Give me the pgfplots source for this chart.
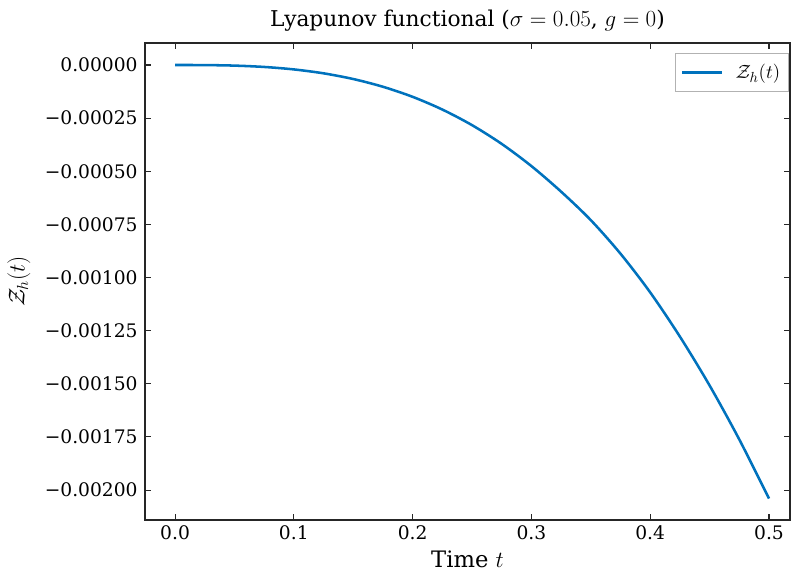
\documentclass[border=0pt]{standalone}
\usepackage{pgfplots}
\pgfplotsset{compat=1.18}
\usepackage{fontspec}
\setmainfont{DejaVu Serif}
\definecolor{lineblue}{RGB}{0,114,189}
\begin{document}
\begin{tikzpicture}
\useasboundingbox (-108.75pt,-43.5pt) rectangle (484.5pt,390pt);
\begin{axis}[
  at={(0,0)}, anchor=south west,
  scale only axis,
  width=483.75pt, height=357.75pt,
  xmin=-0.0253, xmax=0.5177,
  ymin=-0.002141, ymax=0.0001035,
  axis line style={black!85, line width=0.9pt},
  tick style={black!85, line width=0.8pt},
  tick align=inside,
  major tick length=4.5pt,
  tick pos=both,
  xtick={0,0.1,0.2,0.3,0.4,0.5},
  xticklabels={0.0,0.1,0.2,0.3,0.4,0.5},
  ytick={-0.002,-0.00175,-0.0015,-0.00125,-0.001,-0.00075,-0.0005,-0.00025,0},
  yticklabels={−0.00200,−0.00175,−0.00150,−0.00125,−0.00100,−0.00075,−0.00050,−0.00025,0.00000},
  scaled ticks=false,
  ticklabel style={font=\fontsize{14}{16}\selectfont},
  xticklabel style={yshift=-1pt},
  yticklabel style={xshift=-2pt},
  xlabel={Time $t$},
  ylabel={$\mathcal{Z}_h(t)$},
  xlabel style={yshift=-1pt},
  ylabel style={yshift=4pt},
  label style={font=\fontsize{17}{20}\selectfont},
  title={Lyapunov functional ($\sigma = 0.05$, $g = 0$)},
  title style={font=\fontsize{16.3}{19}\selectfont, yshift=-1pt},
  legend style={at={(0.998,0.979)}, anchor=north east, draw=black!30, line width=0.9pt,
    font=\fontsize{15.5}{18}\selectfont, inner xsep=4pt, inner ysep=6pt},
  legend cell align=left,
  legend image code/.code={\draw[#1, line width=1.9pt] (0pt,0pt) -- (30pt,0pt); \path (37pt,0pt);},
]
\addplot[lineblue, line width=1.9pt, smooth] table {
t y
0.000 0.0000000
0.025 -0.0000004
0.050 -0.0000029
0.075 -0.0000092
0.100 -0.0000208
0.125 -0.0000392
0.150 -0.0000660
0.175 -0.0001024
0.200 -0.0001498
0.225 -0.0002096
0.250 -0.0002830
0.275 -0.0003713
0.300 -0.0004757
0.325 -0.0005960
0.350 -0.0007300
0.375 -0.0008880
0.400 -0.0010700
0.425 -0.0012780
0.450 -0.0015080
0.475 -0.0017620
0.500 -0.0020400
};
\addlegendentry{$\mathcal{Z}_h(t)$}
\end{axis}
\end{tikzpicture}
\end{document}
